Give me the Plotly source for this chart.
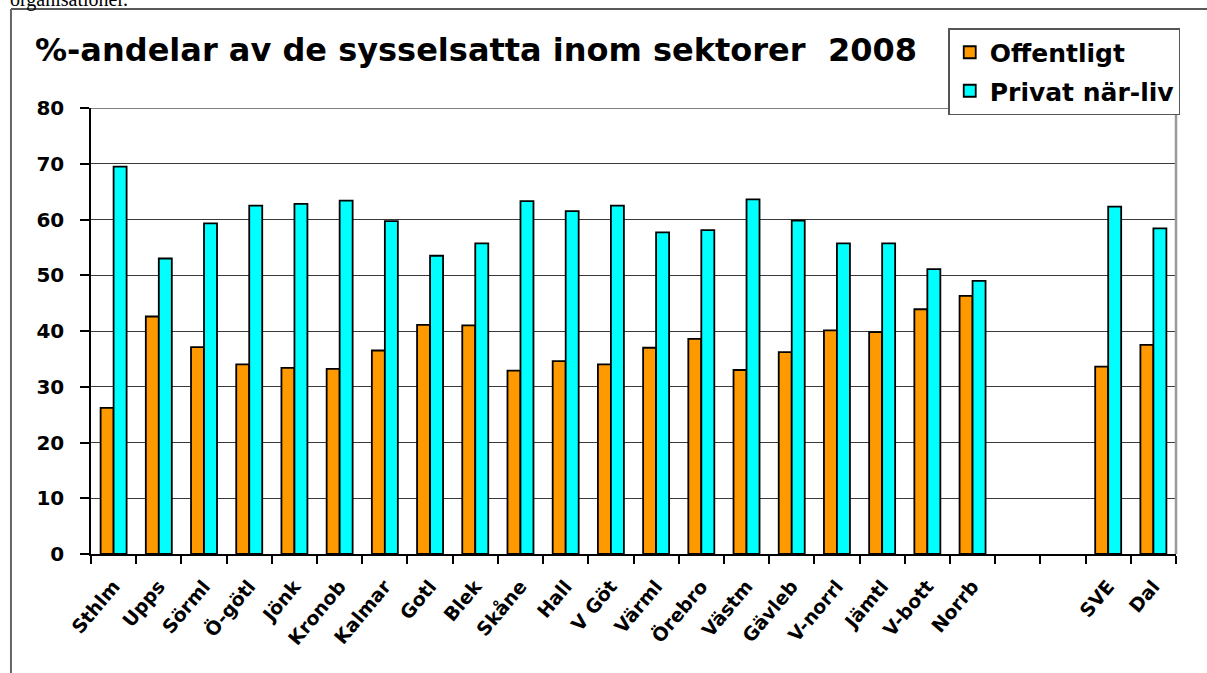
import plotly.graph_objects as go

categories = ["Sthlm", "Upps", "Sörml", "Ö-götl", "Jönk", "Kronob", "Kalmar", "Gotl",
              "Blek", "Skåne", "Hall", "V Göt", "Värml", "Örebro", "Västm", "Gävleb",
              "V-norrl", "Jämtl", "V-bott", "Norrb", " ", "  ", "SVE", "Dal"]
offentligt = [26.2, 42.6, 37.1, 34.0, 33.4, 33.2, 36.5, 41.1, 41.0, 32.9, 34.6, 34.0,
              37.0, 38.6, 33.0, 36.2, 40.1, 39.8, 43.9, 46.3, None, None, 33.6, 37.5]
privat = [69.5, 53.0, 59.3, 62.5, 62.8, 63.4, 59.7, 53.5, 55.7, 63.3, 61.5, 62.5,
          57.7, 58.1, 63.6, 59.8, 55.7, 55.7, 51.1, 49.0, None, None, 62.3, 58.4]
y_ticks = [0, 10, 20, 30, 40, 50, 60, 70, 80]

W, H = 1207, 673
L, R, T, B = 91, 1175.7, 108, 554
FONT = "DejaVu Sans, Verdana, sans-serif"

def px_x(px):
    return (px - L) / (R - L)

def px_y(py):
    return (B - py) / (B - T)

fig = go.Figure()
fig.add_trace(go.Bar(x=categories, y=offentligt, name="Offentligt", legendgroup="a",
                     marker=dict(color="#FF9900", line=dict(color="black", width=1.8))))
fig.add_trace(go.Bar(x=categories, y=privat, name="Privat när-liv", legendgroup="b",
                     marker=dict(color="#00FFFF", line=dict(color="black", width=1.8))))

fig.update_layout(
    width=W, height=H,
    margin=dict(l=L, r=W - R, t=T, b=H - B, autoexpand=False),
    paper_bgcolor="white", plot_bgcolor="white",
    barmode="group", bargap=0.425, bargroupgap=0,
    title=dict(text="%-andelar av de sysselsatta inom sektorer\u00a0\u00a02008",
               x=35 / W, xanchor="left", y=1 - 50 / H, yanchor="middle",
               font=dict(family=FONT, size=32, color="black", weight="bold")),
    font=dict(family=FONT, color="black"),
    legend=dict(x=px_x(948), y=px_y(28), xanchor="left", yanchor="top",
                bgcolor="white", bordercolor="#555555", borderwidth=1.5,
                font=dict(family=FONT, size=25, color="black", weight="bold"),
                traceorder="grouped", tracegroupgap=3, itemwidth=30),
    showlegend=True,
)
fig.update_xaxes(
    type="category", categoryorder="array", categoryarray=categories,
    showgrid=False, showline=True, linecolor="black", linewidth=1.5,
    ticks="outside", tickson="boundaries", ticklen=8, tickcolor="black", tickwidth=1.5,
    tickangle=-50, tickfont=dict(family=FONT, size=19, color="black", weight="bold"),
    ticklabelstandoff=12,
)
fig.update_yaxes(
    range=[0, 80], tickvals=y_ticks, showgrid=True, gridcolor="#3a3a3a", gridwidth=1,
    showline=True, linecolor="black", linewidth=1.5, zeroline=False,
    ticks="outside", ticklen=9, tickcolor="black", tickwidth=1.5,
    tickfont=dict(family=FONT, size=20, color="black", weight="bold"),
    ticklabelstandoff=12,
)

# top grid line lighter + right frame line
fig.add_shape(type="line", xref="paper", yref="y", x0=0, x1=1, y0=80, y1=80,
              line=dict(color="#808080", width=2))
fig.add_shape(type="line", xref="paper", yref="paper", x0=1, x1=1, y0=0, y1=px_y(111),
              line=dict(color="#999999", width=2.5))
# outer page box
fig.add_shape(type="line", xref="paper", yref="paper", x0=px_x(11), x1=px_x(1210),
              y0=px_y(9), y1=px_y(9), line=dict(color="#222222", width=1.5))
fig.add_shape(type="line", xref="paper", yref="paper", x0=px_x(11), x1=px_x(11),
              y0=px_y(9), y1=px_y(680), line=dict(color="#666666", width=2))
# cut-off body text above the box (as in the source page)
fig.add_annotation(text="organisationer.", xref="paper", yref="paper",
                   x=px_x(8), y=px_y(13), xanchor="left", yanchor="bottom",
                   showarrow=False,
                   font=dict(family="Liberation Serif, Times New Roman, serif", size=20, color="black"))

fig.write_html("out.html", config={"displayModeBar": False},
               post_script="document.body.style.margin='0';document.body.style.overflow='hidden';")
